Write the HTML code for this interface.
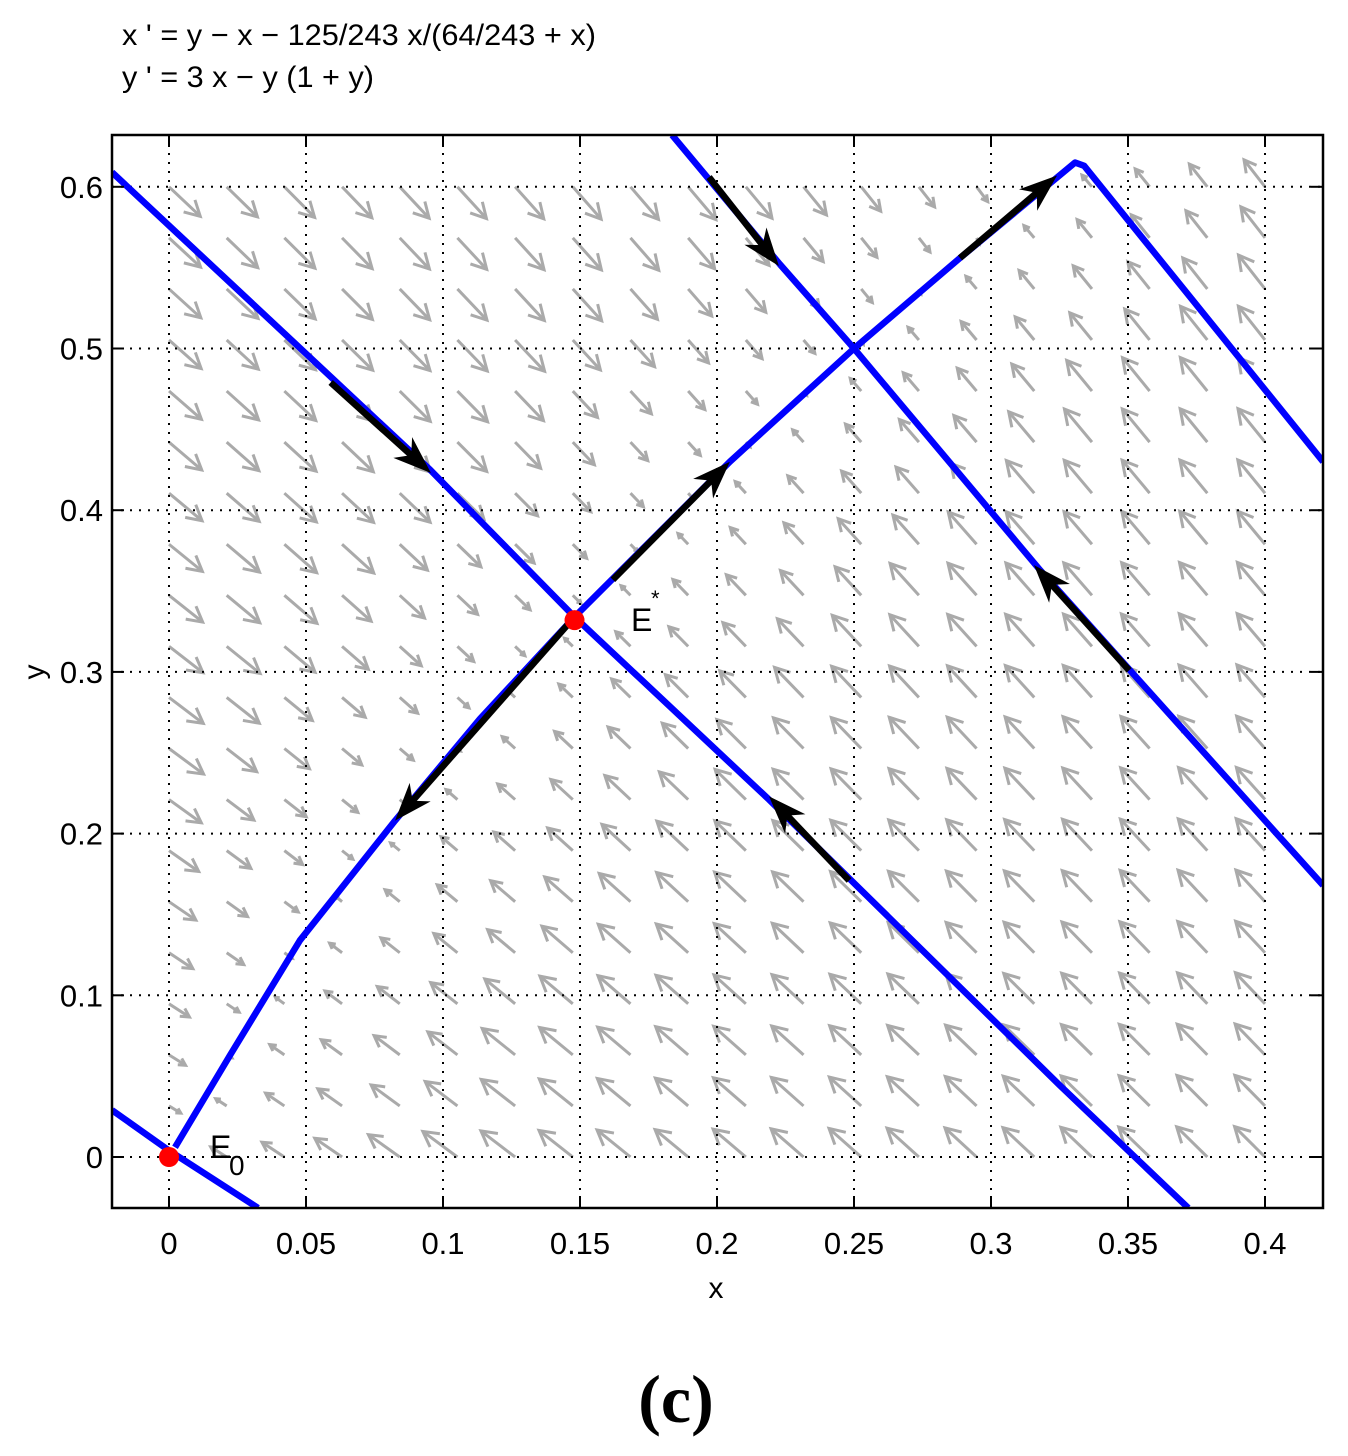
<!DOCTYPE html>
<html><head><meta charset="utf-8"><style>
html,body{margin:0;padding:0;background:#fff;}
svg{display:block;font-family:"Liberation Sans",sans-serif;}
</style></head><body>
<svg id="chart" width="1348" height="1456" viewBox="0 0 1348 1456" xmlns="http://www.w3.org/2000/svg">
<text x="122" y="45" font-size="30" textLength="474" lengthAdjust="spacingAndGlyphs">x ' = y − x − 125/243 x/(64/243 + x)</text>
<text x="122" y="87" font-size="30" textLength="252" lengthAdjust="spacingAndGlyphs">y ' = 3 x − y (1 + y)</text>
<g id="field"></g>
<g id="grid"></g>
<g id="traj"></g>
<g id="arrows"></g>
<g id="axes"></g>
<text x="716" y="1298" font-size="30" text-anchor="middle">x</text>
<text transform="translate(44,672) rotate(-90)" font-size="30" text-anchor="middle">y</text>
<text x="676" y="1422" font-size="68" text-anchor="middle" font-family="Liberation Serif, serif" font-weight="bold">(c)</text>
</svg>
<script>
const xTicks=[0,0.05,0.1,0.15,0.2,0.25,0.3,0.35,0.4];
const xTickLabels=["0","0.05","0.1","0.15","0.2","0.25","0.3","0.35","0.4"];
const yTicks=[0,0.1,0.2,0.3,0.4,0.5,0.6];
const yTickLabels=["0","0.1","0.2","0.3","0.4","0.5","0.6"];
const stableX=[-0.0208,0.0953,0.148,0.219,0.325,0.372];
const stableY=[0.609,0.425,0.334,0.221,0.0445,-0.0315];
const unstableX=[0.0022,0.0223,0.0478,0.0825,0.1135,0.148,0.2047,0.25,0.2887,0.3307,0.334,0.4212];
const unstableY=[0.006,0.063,0.134,0.208,0.271,0.334,0.43,0.5,0.556,0.615,0.613,0.43];
const e0LineX=[-0.0208,0.0,0.0325];
const e0LineY=[0.029,0.004,-0.0315];
const topLineX=[0.1836,0.223,0.25,0.3179,0.4212];
const topLineY=[0.632,0.552,0.5,0.363,0.168];
const arrowFromX=[0.059,0.1971,0.2887,0.162,0.148,0.2482,0.3504];
const arrowFromY=[0.479,0.606,0.556,0.357,0.334,0.171,0.301];
const arrowToX=[0.0956,0.2226,0.3241,0.2047,0.0825,0.2190,0.3157];
const arrowToY=[0.423,0.551,0.607,0.43,0.208,0.223,0.366];
const eqX=[0.148,0.0];
const eqY=[0.332,0.0];

const X0=169,XS=2740,Y0=1157,YS=1617,L=112,R=1323,T=135,B=1208;
const sx=x=>X0+x*XS, sy=y=>Y0-y*YS;
const NS="http://www.w3.org/2000/svg";
function mk(tag,parent,attrs){const e=document.createElementNS(NS,tag);for(const k in attrs)e.setAttribute(k,attrs[k]);parent.appendChild(e);return e;}
const svg=document.getElementById('chart');
const defs=mk('defs',svg,{});const cp=mk('clipPath',defs,{id:'pc'});mk('rect',cp,{x:L,y:T,width:R-L,height:B-T});
const field=document.getElementById('field');field.setAttribute('clip-path','url(#pc)');
for(let i=0;i<20;i++){for(let j=0;j<20;j++){
 const x=0.4*i/19,y=0.6*j/19;
 const vx=y-x-(125/243)*x/(64/243+x), vy=3*x-y*(1+y);
 const px=vx*XS,py=-vy*YS;const m=Math.hypot(px,py);if(m<1e-9)continue;
 const mag=Math.hypot(vx,vy);const len=40*Math.min(1,Math.pow(mag/0.4,0.6))+3;
 const ux=px/m,uy=py/m;
 const x1=sx(x),y1=sy(y),x2=x1+ux*len,y2=y1+uy*len;
 const g=mk('g',field,{stroke:'#aaaaaa','stroke-width':3,fill:'none'});
 
 
 mk('line',g,{x1,y1,x2,y2});
 const h=len*0.4,a=0.5;
 const bx=-ux,by=-uy;
 const hx1=x2+h*(bx*Math.cos(a)-by*Math.sin(a)),hy1=y2+h*(bx*Math.sin(a)+by*Math.cos(a));
 const hx2=x2+h*(bx*Math.cos(-a)-by*Math.sin(-a)),hy2=y2+h*(bx*Math.sin(-a)+by*Math.cos(-a));
 mk('polyline',g,{points:`${hx1},${hy1} ${x2},${y2} ${hx2},${hy2}`});
}}
const grid=document.getElementById('grid');
xTicks.forEach(t=>{const l=mk('line',grid,{x1:sx(t),x2:sx(t),y1:T,y2:B,stroke:'#000','stroke-width':2,'stroke-dasharray':'2,7'});});
yTicks.forEach(t=>{const l=mk('line',grid,{y1:sy(t),y2:sy(t),x1:L,x2:R,stroke:'#000','stroke-width':2,'stroke-dasharray':'2,7'});});
const traj=document.getElementById('traj');traj.setAttribute('clip-path','url(#pc)');
function line(xs,ys,name){const p=mk('polyline',traj,{points:xs.map((x,i)=>sx(x)+','+sy(ys[i])).join(' '),stroke:'#0000ff','stroke-width':6.5,fill:'none','stroke-linejoin':'round'});}
line(stableX,stableY,'stable-manifold');
line(unstableX,unstableY,'unstable-manifold');
line(e0LineX,e0LineY,'trajectory-near-e0');
line(topLineX,topLineY,'trajectory-top');
const ar=document.getElementById('arrows');
arrowFromX.forEach((fx,i)=>{
 const x1=sx(fx),y1=sy(arrowFromY[i]),x2=sx(arrowToX[i]),y2=sy(arrowToY[i]);
 const d=Math.hypot(x2-x1,y2-y1),ux=(x2-x1)/d,uy=(y2-y1)/d;
 const g=mk('g',ar,{});
 const hl=38,hw=14;
 mk('line',g,{x1,y1,x2:x2-ux*hl*0.6,y2:y2-uy*hl*0.6,stroke:'#000','stroke-width':6.5});
 const bx=x2-ux*hl,by=y2-uy*hl,mx=x2-ux*hl*0.7,my=y2-uy*hl*0.7;
 mk('path',g,{d:`M${x2},${y2} L${bx-uy*hw},${by+ux*hw} L${mx},${my} L${bx+uy*hw},${by-ux*hw} Z`,fill:'#000'});
});
eqX.forEach((x,i)=>{const c=mk('circle',ar,{cx:sx(x),cy:sy(eqY[i]),r:10,fill:'#ff0000'});});
let t=mk('text',ar,{x:631,y:631,'font-size':32});t.textContent='E';
t=mk('text',ar,{x:651,y:606,'font-size':22});t.textContent='*';
t=mk('text',ar,{x:210,y:1158,'font-size':32});t.textContent='E';
t=mk('text',ar,{x:229,y:1175,'font-size':28});t.textContent='0';
const ax=document.getElementById('axes');
mk('rect',ax,{x:L,y:T,width:R-L,height:B-T,fill:'none',stroke:'#000','stroke-width':2.5});
xTicks.forEach((v,i)=>{mk('line',ax,{x1:sx(v),x2:sx(v),y1:B,y2:B-12,stroke:'#000','stroke-width':2});mk('line',ax,{x1:sx(v),x2:sx(v),y1:T,y2:T+12,stroke:'#000','stroke-width':2});
 const tx=mk('text',ax,{x:sx(v),y:1254,'font-size':31,'text-anchor':'middle'});tx.textContent=xTickLabels[i];});
yTicks.forEach((v,i)=>{mk('line',ax,{y1:sy(v),y2:sy(v),x1:L,x2:L+12,stroke:'#000','stroke-width':2});mk('line',ax,{y1:sy(v),y2:sy(v),x1:R,x2:R-12,stroke:'#000','stroke-width':2});
 const tx=mk('text',ax,{x:103,y:sy(v)+11,'font-size':31,'text-anchor':'end'});tx.textContent=yTickLabels[i];});
</script>
</body></html>
